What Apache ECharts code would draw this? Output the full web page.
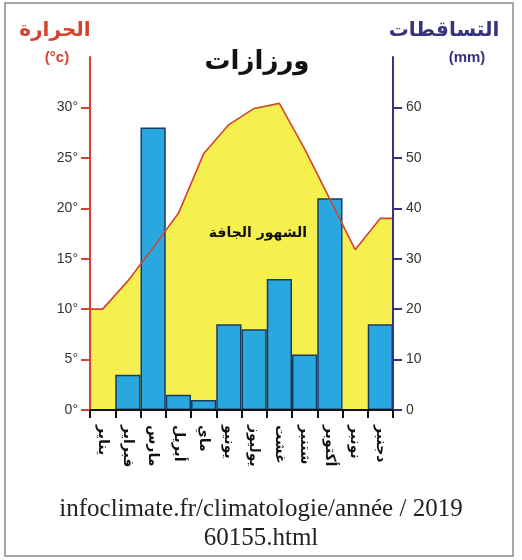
<!DOCTYPE html>
<html>
<head>
<meta charset="utf-8">
<script src="https://cdn.jsdelivr.net/npm/echarts@6/dist/echarts.min.js"></script>
<style>
  html, body { margin: 0; padding: 0; background: #fff; }
  #main { width: 522px; height: 560px; }
</style>
</head>
<body>
<div id="main"></div>
<script>
// البيانات
var months = ['يناير', 'فبراير', 'مارس', 'أبريل', 'ماي', 'يونيو', 'يوليوز', 'غشت', 'شتنبر', 'أكتوبر', 'نونبر', 'دجنبر'];
var precip = [0, 7, 56, 3, 2, 17, 16, 26, 11, 42, 0, 17];          // mm
var temp = [10, 12.8, 16.1, 19.5, 25.4, 28.3, 29.9, 30.4, 25.9, 20.9, 15.9, 19]; // °c
var tempTicks = [0, 5, 10, 15, 20, 25, 30];
var precipTicks = [0, 10, 20, 30, 40, 50, 60];

var red = '#d4432f';
var navy = '#37327f';
var arabic = '"DejaVu Sans", sans-serif';

// منحنى الحرارة على محور قيمي مخفي (0..12) ليمتد من حافة إلى حافة
var tempLine = [[0, temp[0]]];
for (var i = 0; i < temp.length; i++) {
    tempLine.push([i + 0.5, temp[i]]);
}
tempLine.push([12, temp[temp.length - 1]]);

var myChart = echarts.init(document.getElementById('main'));

var option = {
    animation: false,
    grid: { left: 90, right: 129, top: 57, bottom: 150 },
    xAxis: [
        {
            type: 'category',
            data: months,
            boundaryGap: true,
            z: 10,
            axisLine: { lineStyle: { color: '#111', width: 2 } },
            axisTick: { show: true, interval: 0, length: 8, lineStyle: { color: '#111', width: 2 } },
            axisLabel: {
                interval: 0, rotate: -90, margin: 15,
                color: '#111', fontSize: 14, fontWeight: 'bold', fontFamily: arabic
            }
        },
        { type: 'value', min: 0, max: 12, show: false }
    ],
    yAxis: [
        {
            type: 'value', min: 0, max: 35, interval: 5, position: 'left', z: 10,
            splitLine: { show: false },
            axisLine: { show: true, onZero: false, lineStyle: { color: red, width: 2 } },
            axisTick: { show: true, length: 9, customValues: tempTicks, lineStyle: { color: red, width: 2 } },
            axisLabel: {
                customValues: tempTicks, margin: 12,
                color: '#333', fontSize: 14, fontFamily: 'Liberation Sans, Arial',
                formatter: function (v) { return v + '°'; }
            }
        },
        {
            type: 'value', min: 0, max: 70, interval: 10, position: 'right', z: 10,
            splitLine: { show: false },
            axisLine: { show: true, onZero: false, lineStyle: { color: navy, width: 2 } },
            axisTick: { show: true, length: 9, customValues: precipTicks, lineStyle: { color: navy, width: 2 } },
            axisLabel: {
                customValues: precipTicks, margin: 13,
                color: '#333', fontSize: 14, fontFamily: 'Liberation Sans, Arial'
            }
        }
    ],
    series: [
        {
            name: 'area',
            type: 'line',
            xAxisIndex: 1, yAxisIndex: 0,
            data: tempLine,
            symbol: 'none',
            lineStyle: { width: 0 },
            areaStyle: { color: '#f6f04f', opacity: 1 },
            z: 1
        },
        {
            name: 'التساقطات',
            type: 'bar',
            xAxisIndex: 0, yAxisIndex: 1,
            data: precip,
            barCategoryGap: '0%',
            itemStyle: { color: '#29a8e0', borderColor: '#1b3b63', borderWidth: 1.5 },
            z: 2
        },
        {
            name: 'الحرارة',
            type: 'line',
            xAxisIndex: 1, yAxisIndex: 0,
            data: tempLine,
            symbol: 'none',
            lineStyle: { color: red, width: 1.6 },
            z: 3
        }
    ],
    graphic: [
        { type: 'rect', shape: { x: 5, y: 3, width: 508, height: 553 },
          style: { fill: 'none', stroke: '#8a8a8a', lineWidth: 1.5 }, z: 0 },
        { type: 'text', x: 55, y: 31, z: 20,
          style: { text: 'الحرارة', fill: red, font: 'bold 20px ' + arabic, textAlign: 'center', textVerticalAlign: 'middle', align: 'center', verticalAlign: 'middle' } },
        { type: 'text', x: 57, y: 58, z: 20,
          style: { text: '(°c)', fill: red, font: 'bold 15px Liberation Sans, Arial', textAlign: 'center', textVerticalAlign: 'middle', align: 'center', verticalAlign: 'middle' } },
        { type: 'text', x: 444, y: 31, z: 20,
          style: { text: 'التساقطات', fill: navy, font: 'bold 20px ' + arabic, textAlign: 'center', textVerticalAlign: 'middle', align: 'center', verticalAlign: 'middle' } },
        { type: 'text', x: 467, y: 58, z: 20,
          style: { text: '(mm)', fill: navy, font: 'bold 15px Liberation Sans, Arial', textAlign: 'center', textVerticalAlign: 'middle', align: 'center', verticalAlign: 'middle' } },
        { type: 'text', x: 257, y: 62, z: 20,
          style: { text: 'ورزازات', fill: '#111', font: 'bold 26px ' + arabic, textAlign: 'center', textVerticalAlign: 'middle', align: 'center', verticalAlign: 'middle' } },
        { type: 'text', x: 258, y: 233, z: 20,
          style: { text: 'الشهور الجافة', fill: '#111', font: 'bold 14px ' + arabic, textAlign: 'center', textVerticalAlign: 'middle', align: 'center', verticalAlign: 'middle' } },
        { type: 'text', x: 261, y: 509, z: 20,
          style: { text: 'infoclimate.fr/climatologie/année / 2019', fill: '#222', font: '25px Liberation Serif, serif', textAlign: 'center', textVerticalAlign: 'middle', align: 'center', verticalAlign: 'middle' } },
        { type: 'text', x: 261, y: 538, z: 20,
          style: { text: '60155.html', fill: '#222', font: '25px Liberation Serif, serif', textAlign: 'center', textVerticalAlign: 'middle', align: 'center', verticalAlign: 'middle' } }
    ]
};

myChart.setOption(option);
</script>
</body>
</html>
